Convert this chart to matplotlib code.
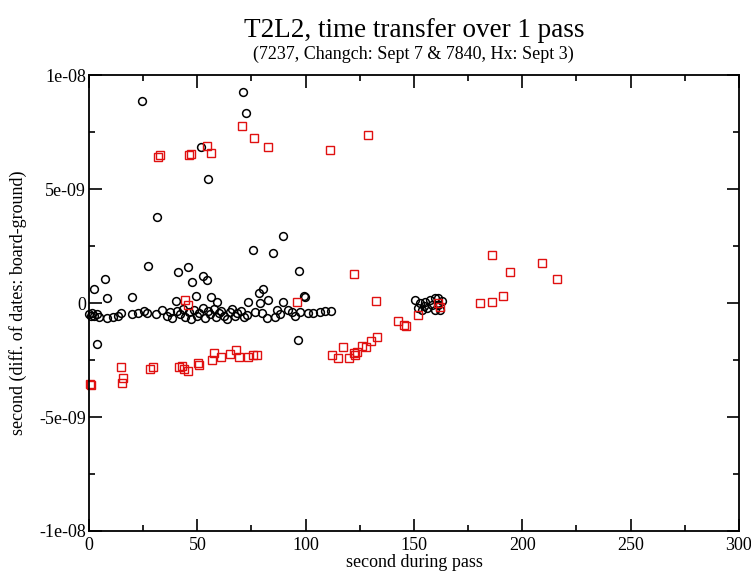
import numpy as np
import matplotlib.pyplot as plt
from matplotlib.ticker import MultipleLocator

# black circles: 7237 Changchun (x in s, y in ns)
black_x = [24.5, 71.0, 72.5, 51.7, 54.9, 31.4, 89.5, 75.7, 84.9, 96.9,
           27.2, 41.1, 45.7, 47.5, 52.6, 54.5, 2.3, 7.4, 8.3, 19.8,
           3.7, 96.4, 78.5, 80.3, 99.2, 40.1, 49.4, 56.3, 59.0, 99.7,
           0.0, 0.7, 1.5, 2.5, 3.8, 4.8, 8.3, 11.0, 13.2, 14.6,
           20.0, 22.5, 25.5, 27.0, 31.0, 33.5, 35.8, 37.5, 38.5, 40.5,
           42.0, 43.5, 44.5, 46.0, 47.0, 48.5, 50.0, 51.0, 52.5, 53.5,
           55.0, 56.0, 57.5, 58.5, 60.0, 61.0, 62.5, 63.5, 65.0, 66.0,
           67.5, 68.5, 70.0, 71.5, 73.4, 78.9, 82.6, 89.5, 91.8, 86.8,
           82.1, 76.6, 72.9, 85.8, 97.4, 103.4, 106.6, 108.9, 111.7, 80.0,
           88.0, 93.5, 95.0, 101.0,
           150.4, 152.7, 155.0, 157.4, 159.7, 161.0, 158.3, 156.0, 153.7, 161.0,
           162.0, 159.7, 151.8, 163.0, 154.5]
black_y = [8.86, 9.25, 8.33, 6.84, 5.44, 3.77, 2.94, 2.32, 2.19, 1.40,
           1.62, 1.36, 1.58, 0.92, 1.18, 1.01, 0.61, 1.05, 0.22, 0.26,
           -1.80, -1.62, 0.44, 0.61, 0.31, 0.09, 0.31, 0.26, 0.04, 0.26,
           -0.50, -0.55, -0.45, -0.55, -0.50, -0.60, -0.66, -0.62, -0.55, -0.45,
           -0.50, -0.42, -0.35, -0.45, -0.50, -0.30, -0.55, -0.40, -0.65, -0.35,
           -0.50, -0.25, -0.60, -0.40, -0.70, -0.30, -0.55, -0.45, -0.20, -0.65,
           -0.35, -0.50, -0.28, -0.60, -0.45, -0.35, -0.55, -0.70, -0.40, -0.25,
           -0.55, -0.45, -0.35, -0.60, 0.04, 0.00, 0.13, 0.04, -0.31, -0.31,
           -0.66, -0.39, -0.53, -0.61, -0.39, -0.44, -0.39, -0.35, -0.35, -0.45,
           -0.50, -0.40, -0.55, -0.45,
           0.13, 0.00, 0.04, 0.13, 0.22, 0.22, -0.09, -0.22, -0.30, -0.09,
           -0.30, -0.30, -0.22, 0.10, -0.15]

# red squares: 7840 Helwan (x in s, y in ns)
red_x = [0.3, 0.8, 14.8, 15.7, 15.2, 28.0, 29.5, 41.5, 43.0, 44.0,
         45.7, 50.3, 50.6, 56.8, 57.7, 61.0, 65.0, 67.8, 69.2, 73.4,
         75.7, 77.5, 44.3, 45.7, 96.0,
         31.8, 32.8, 46.1, 47.0, 54.5, 56.3, 70.6, 76.1, 82.6, 111.2, 128.7,
         112.1, 114.9, 117.2, 120.0, 122.3, 123.7, 122.7, 126.0, 127.8, 130.1,
         132.9, 122.3, 132.4, 142.6, 145.4, 146.3, 151.8, 161.0, 162.0,
         186.0, 194.3, 209.0, 216.0, 191.0, 186.0, 180.4]
red_y = [-3.55, -3.60, -2.80, -3.30, -3.50, -2.90, -2.80, -2.80, -2.75, -2.90,
         -3.00, -2.65, -2.72, -2.50, -2.20, -2.35, -2.25, -2.05, -2.35, -2.35,
         -2.30, -2.30, 0.13, -0.09, 0.04,
         6.40, 6.50, 6.50, 6.55, 6.90, 6.60, 7.76, 7.24, 6.84, 6.71, 7.35,
         -2.28, -2.41, -1.93, -2.41, -2.19, -2.15, -2.28, -1.89, -1.93, -1.67,
         -1.49, 1.27, 0.09, -0.80, -0.97, -1.00, -0.53, 0.00, -0.18,
         2.10, 1.36, 1.75, 1.05, 0.30, 0.04, 0.00]

plt.rcParams['font.family'] = ['Liberation Serif', 'DejaVu Serif']

fig = plt.figure(figsize=(7.51, 5.73), dpi=100)
ax = fig.add_axes([0.1185, 0.0733, 0.8655, 0.7957])

ax.plot(black_x, np.array(black_y) * 1e-9, 'o', ms=5.6, mfc='none',
        mec='black', mew=1.1, ls='none', clip_on=False)
ax.plot(red_x, np.array(red_y) * 1e-9, 's', ms=5.2, mfc='none',
        mec='#e01010', mew=1.0, ls='none', clip_on=False)

ax.set_xlim(0, 300)
ax.set_ylim(-1e-8, 1e-8)
ax.xaxis.set_major_locator(MultipleLocator(50))
ax.xaxis.set_minor_locator(MultipleLocator(25))
ax.yaxis.set_major_locator(MultipleLocator(5e-9))
ax.yaxis.set_minor_locator(MultipleLocator(2.5e-9))
ax.set_yticks([-1e-8, -5e-9, 0, 5e-9, 1e-8])
ax.set_yticklabels(['-1e-08', '-5e-09', '0', '5e-09', '1e-08'])
ax.tick_params(which='both', direction='in', top=True, right=True,
               labelsize=13, width=1.2)
ax.tick_params(which='major', length=9, pad=2)
ax.tick_params(axis='x', which='major', pad=4)
ax.tick_params(which='minor', length=4.5)
for s in ax.spines.values():
    s.set_linewidth(1.3)

ax.set_xlabel('second during pass', fontsize=13, labelpad=0)
ax.set_ylabel('second (diff. of dates: board-ground)', fontsize=13, labelpad=9)

fig.text(0.551, 0.946, 'T2L2, time transfer over 1 pass', ha='center',
         va='center', fontsize=19.5)
fig.text(0.551, 0.905, '(7237, Changch: Sept 7 & 7840, Hx: Sept 3)',
         ha='center', va='center', fontsize=13)

plt.savefig('out.png', dpi=100)
